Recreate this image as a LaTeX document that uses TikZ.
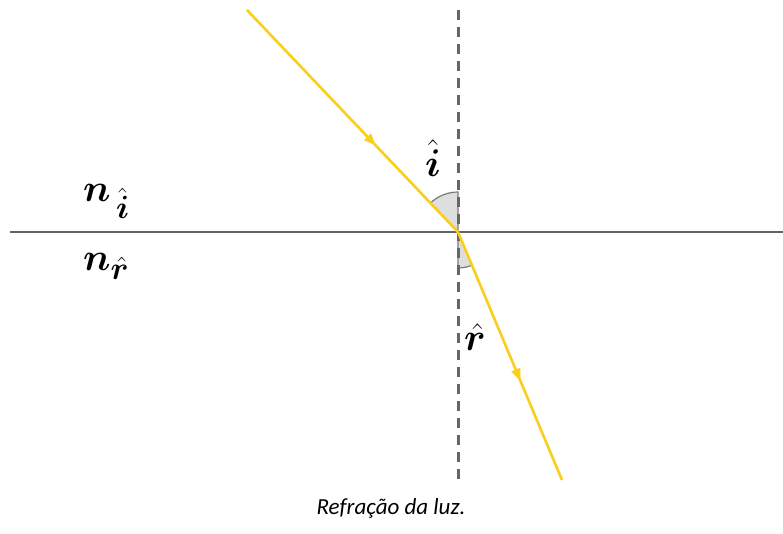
\documentclass[tikz,border=0pt]{standalone}
\usepackage{fontspec}
\usepackage{amsmath}
\usepackage{bm}
\usepackage{graphicx}
\newfontfamily\capfont{Carlito}
\usetikzlibrary{decorations.markings,arrows.meta}
\definecolor{ray}{HTML}{F9CF1C}
\definecolor{lineg}{HTML}{646464}
\definecolor{dashg}{HTML}{666666}
\definecolor{arcfill}{HTML}{DEDEDE}
\definecolor{arcline}{HTML}{7A7A7A}
\tikzset{
  interface/.style={draw=lineg, line width=2.8pt},
  normalline/.style={draw=dashg, line width=3pt, dash pattern=on 10pt off 7pt},
  lightray/.style={draw=ray, line width=2.6pt},
  midarrow/.style={postaction={decorate}, decoration={markings,
     mark=at position #1 with {\arrow{Triangle[length=12pt,width=9pt,fill=ray,color=ray]}}}},
  anglesector/.style={fill=arcfill, draw=arcline, line width=1.2pt},
  bigmath/.style={font=\Huge, inner sep=0pt},
  caption/.style={font=\capfont\itshape\fontsize{23}{27}\selectfont, inner sep=0pt}
}
\newcommand{\mybigsym}[1]{\scalebox{1.55}{#1}}
\begin{document}
\begin{tikzpicture}[x=1pt,y=-1pt]
\useasboundingbox[fill=white] (0,0) rectangle (783,533);
% points
\coordinate (O) at (458,232);
\coordinate (L) at (10,232);
\coordinate (R) at (783,232);
\coordinate (Ntop) at (458,10);
\coordinate (Nbot) at (458,480);
\coordinate (Istart) at (247,10);
\coordinate (Rend) at (562,480);
% angle sectors
\path[anglesector] (O) -- ++(226.45:40) arc[start angle=226.45, end angle=270, radius=40] -- cycle;
\path[anglesector] (O) -- ++(67.25:36) arc[start angle=67.25, end angle=90, radius=36] -- cycle;
% lines
\draw[interface] (L) -- (R);
\draw[normalline] (Ntop) -- (Nbot);
\draw[lightray, midarrow=0.61] (Istart) -- (O);
\draw[lightray, midarrow=0.60] (O) -- (Rend);
% labels
\node[bigmath, anchor=base west] (n1) at (83,201) {\mybigsym{$\bm{n}_{\mkern3mu\hat{\bm{i}}}$}};
\node[bigmath, anchor=base west] (n2) at (83,270) {\mybigsym{$\bm{n}_{\hat{\bm{r}}}$}};
\node[bigmath] (ilab) at (433,158) {\mybigsym{$\hat{\bm{i}}$}};
\node[bigmath] (rlab) at (475,337) {\mybigsym{$\hat{\bm{r}}$}};
\node[caption] (cap) at (391,508) {Refração da luz.};
\end{tikzpicture}
\end{document}
